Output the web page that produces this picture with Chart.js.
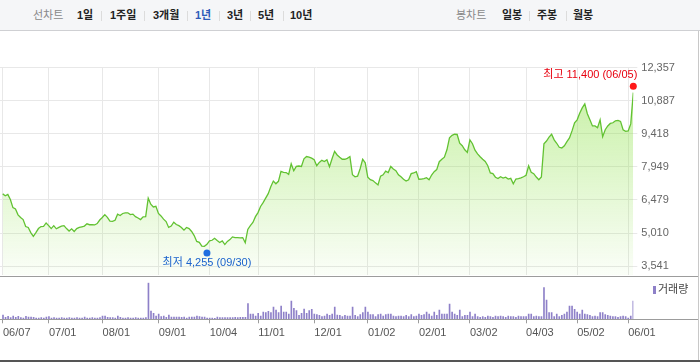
<!DOCTYPE html>
<html lang="ko">
<head>
<meta charset="utf-8">
<script src="https://cdn.jsdelivr.net/npm/chart.js@4.4.1/dist/chart.umd.min.js"></script>
<style>
  html, body { margin: 0; padding: 0; background: #fff; }
  body { width: 700px; height: 362px; position: relative; overflow: hidden;
         font-family: "Liberation Sans", "Noto Sans CJK KR", sans-serif; }
  .topbar { position: absolute; left: 0; top: 0; width: 700px; height: 30px;
            background: #f5f6f8; border-bottom: 1px solid #cfd0d3; }
  .tab { position: absolute; top: 8px; font-size: 11px; line-height: 14px; font-weight: bold;
         color: #222; white-space: nowrap; }
  .tab.label { color: #888; font-weight: normal; }
  .tab.on { color: #2e5cb8; }
  .sep { position: absolute; top: 11px; width: 1px; height: 10px; background: #dcdcdc; }
  #priceBox { position: absolute; left: 0; top: 30px; width: 700px; height: 256px; }
  #volBox { position: absolute; left: 0; top: 276px; width: 700px; height: 86px; }
  .line { position: absolute; }
  .legend { position: absolute; left: 653px; top: 282px; font-size: 11px; line-height: 14px; color: #444; }
  .legend i { display: inline-block; width: 3px; height: 8px; background: #8e80c8;
              margin-right: 2px; vertical-align: -1px; }
</style>
</head>
<body>
<div class="topbar">
  <span class="tab label" style="left:33px">선차트</span>
  <span class="tab" style="left:77px">1일</span><span class="sep" style="left:101px"></span>
  <span class="tab" style="left:110px">1주일</span><span class="sep" style="left:144px"></span>
  <span class="tab" style="left:153px">3개월</span><span class="sep" style="left:187px"></span>
  <span class="tab on" style="left:195px">1년</span><span class="sep" style="left:219px"></span>
  <span class="tab" style="left:227px">3년</span><span class="sep" style="left:250px"></span>
  <span class="tab" style="left:258px">5년</span><span class="sep" style="left:283px"></span>
  <span class="tab" style="left:290px">10년</span>

  <span class="tab label" style="left:456px">봉차트</span>
  <span class="tab" style="left:502px">일봉</span><span class="sep" style="left:529px"></span>
  <span class="tab" style="left:537px">주봉</span><span class="sep" style="left:566px"></span>
  <span class="tab" style="left:573px">월봉</span>
</div>

<div id="priceBox"><canvas id="priceChart"></canvas></div>
<div id="volBox"><canvas id="volChart"></canvas></div>

<div class="line" style="left:0;top:276px;width:698px;height:1px;background:#9c9c9c"></div>
<div class="line" style="left:0;top:319px;width:698px;height:1px;background:#9c9c9c"></div>
<div class="line" style="left:698px;top:31px;width:1px;height:329px;background:#c8c8c8"></div>
<div class="line" style="left:0;top:360px;width:700px;height:2px;background:#555"></div>
<div class="legend"><i></i>거래량</div>

<script>
// 1년 일별 종가 (2022-06-07 ~ 2023-06-05), 거래량, 축 눈금
const tickIdx = [0, 18, 39, 61, 81, 100, 122, 143, 163, 183, 205, 225, 245];
const tickLabels = ['06/07', '07/01', '08/01', '09/01', '10/04', '11/01', '12/01',
  '01/02', '02/01', '03/02', '04/03', '05/02', '06/01'];
const yTicks = [3541, 5010, 6479, 7949, 9418, 10887, 12357];

const prices = [
  6750, 6670, 6730, 6500, 6140, 6080, 5820, 5700, 5610, 5300,
  5260, 5030, 4860, 5030, 5210, 5300, 5310, 5460, 5340, 5210,
  5340, 5200, 5260, 5320, 5340, 5210, 5100, 5200, 5080, 5210,
  5260, 5290, 5320, 5420, 5380, 5380, 5370, 5430, 5590, 5700,
  5830, 5710, 5540, 5530, 5580, 5850, 5790, 5880, 5910, 5910,
  5830, 5850, 5740, 5680, 5610, 5730, 5740, 6560, 6290, 6170,
  6200, 5880, 5770, 5630, 5520, 5260, 5320, 5490, 5390, 5340,
  5260, 5140, 5260, 5210, 5080, 4900, 4640, 4600, 4430, 4420,
  4510, 4660, 4690, 4780, 4680, 4590, 4660, 4500, 4640, 4720,
  4840, 4810, 4810, 4800, 4810, 4580, 5170, 5340, 5480, 5740,
  5920, 6190, 6360, 6560, 6760, 7070, 7320, 7200, 7310, 7750,
  7710, 7700, 7620, 8090, 7780, 7970, 7990, 7970, 8310, 8410,
  8380, 8340, 8270, 8000, 8150, 8240, 8190, 8270, 7960, 8310,
  8640, 8480, 8380, 8290, 8290, 8330, 8410, 7600, 7510, 7540,
  7870, 8290, 8130, 7490, 7380, 7340, 7240, 7150, 7540, 7600,
  7760, 7700, 7970, 7860, 7780, 7600, 7510, 7400, 7320, 7380,
  7650, 7680, 7740, 7400, 7410, 7430, 7470, 7380, 7590, 7740,
  7830, 8180, 8290, 8380, 8710, 9240, 9350, 9400, 9390, 9000,
  8890, 8710, 8590, 9150, 8980, 8690, 8530, 8400, 8290, 8190,
  8000, 7680, 7650, 7490, 7430, 7510, 7450, 7490, 7410, 7440,
  7200, 7410, 7430, 7460, 7510, 7580, 8000, 7710, 7650, 7500,
  7380, 7500, 8980, 9100, 9270, 9400, 9150, 9000, 8820, 8790,
  8890, 9070, 9240, 9550, 9910, 10040, 10330, 10570, 10750, 10310,
  10040, 9770, 9770, 9690, 10040, 9290, 9600, 9770, 9880, 9910,
  10000, 10020, 9970, 9600, 9530, 9550, 9860, 11250
];

const volumes = [
  130, 60, 90, 50, 100, 60, 90, 50, 40, 90,
  70, 70, 60, 40, 40, 50, 40, 70, 80, 40,
  50, 40, 40, 50, 40, 40, 50, 40, 40, 50,
  40, 40, 70, 40, 40, 50, 40, 40, 50, 100,
  100, 60, 50, 50, 40, 100, 60, 40, 40, 50,
  40, 40, 50, 40, 40, 40, 50, 1100, 250, 180,
  100, 160, 80, 100, 60, 130, 70, 70, 70, 70,
  60, 70, 40, 70, 70, 70, 100, 80, 70, 70,
  40, 40, 40, 30, 70, 50, 50, 50, 50, 50,
  50, 60, 50, 60, 60, 60, 470, 160, 160, 100,
  180, 100, 220, 200, 240, 200, 370, 280, 200, 400,
  220, 220, 160, 550, 330, 260, 120, 180, 310, 180,
  260, 300, 160, 140, 120, 80, 100, 160, 120, 160,
  370, 130, 120, 80, 120, 100, 100, 370, 120, 80,
  140, 200, 370, 220, 140, 140, 80, 140, 160, 100,
  140, 160, 160, 100, 80, 100, 100, 80, 120, 80,
  140, 80, 100, 160, 120, 140, 220, 160, 100, 220,
  120, 280, 160, 160, 160, 460, 220, 160, 120, 280,
  80, 120, 120, 220, 80, 160, 80, 60, 80, 60,
  100, 80, 60, 100, 80, 100, 80, 60, 100, 80,
  80, 60, 100, 80, 80, 80, 160, 160, 80, 100,
  80, 80, 950, 580, 200, 200, 80, 160, 80, 120,
  160, 220, 400, 400, 300, 220, 160, 280, 160, 140,
  120, 80, 100, 80, 200, 200, 140, 120, 100, 80,
  80, 60, 80, 100, 80, 40, 100, 550
];

const highIdx = 247, highValue = 11400, highDate = '06/05';
const lowIdx = 80, lowValue = 4255, lowDate = '09/30';

const xMin = -1.06, xMax = 247;
const yMin = 3129, yMax = 12357;
const FONT = '"Liberation Sans", "Noto Sans CJK KR", sans-serif';

Chart.defaults.font.family = FONT;
Chart.defaults.font.size = 11;

const fmt = v => Number(v).toLocaleString('en-US');

// 최고/최저 표시
const extremeMarks = {
  id: 'extremeMarks',
  afterDatasetsDraw(chart) {
    const { ctx, scales: { x, y } } = chart;
    ctx.save();
    ctx.font = '11px ' + FONT;
    ctx.textBaseline = 'middle';

    let px = x.getPixelForValue(highIdx);
    let py = y.getPixelForValue(highValue) - 3;
    ctx.fillStyle = '#ff1a1a';
    ctx.beginPath(); ctx.arc(px, py, 3.5, 0, Math.PI * 2); ctx.fill();
    ctx.fillStyle = '#e8000f';
    ctx.textAlign = 'right';
    ctx.fillText('최고 ' + fmt(highValue) + ' (' + highDate + ')', px + 4, py - 11);

    px = x.getPixelForValue(lowIdx);
    py = y.getPixelForValue(lowValue) + 3;
    ctx.fillStyle = '#1f6fe0';
    ctx.beginPath(); ctx.arc(px, py, 3.5, 0, Math.PI * 2); ctx.fill();
    ctx.fillStyle = '#1b63cc';
    ctx.textAlign = 'center';
    ctx.fillText('최저 ' + fmt(lowValue) + ' (' + lowDate + ')', px, py + 10);
    ctx.restore();
  }
};

new Chart(document.getElementById('priceChart'), {
  type: 'line',
  data: {
    datasets: [{
      data: prices.map((v, i) => ({ x: i, y: v })),
      borderColor: '#62c232',
      borderWidth: 1.3,
      pointRadius: 0,
      tension: 0,
      fill: 'start',
      backgroundColor: ctx => {
        const area = ctx.chart.chartArea;
        if (!area) return 'rgba(0,0,0,0)';
        const g = ctx.chart.ctx.createLinearGradient(0, area.top, 0, area.bottom);
        g.addColorStop(0, 'rgba(140, 225, 70, 0.52)');
        g.addColorStop(1, 'rgba(140, 225, 70, 0.04)');
        return g;
      }
    }]
  },
  options: {
    responsive: true,
    maintainAspectRatio: false,
    animation: false,
    layout: { padding: { top: 37.7, bottom: 10, left: 0, right: 0 } },
    plugins: { legend: { display: false }, tooltip: { enabled: false } },
    scales: {
      x: {
        type: 'linear', min: xMin, max: xMax,
        afterBuildTicks: s => { s.ticks = tickIdx.map(v => ({ value: v })); },
        ticks: { display: false },
        grid: { color: '#e8e8e8', drawTicks: false },
        border: { display: false },
        afterFit: s => { s.height = 0; }
      },
      y: {
        position: 'right', min: yMin, max: yMax,
        afterBuildTicks: s => { s.ticks = yTicks.map(v => ({ value: v })); },
        ticks: { color: '#666', padding: 4, crossAlign: 'near', callback: v => fmt(v) },
        grid: { color: '#e8e8e8', tickLength: 4 },
        border: { display: false },
        afterFit: s => { s.width = 66.7; }
      }
    }
  },
  plugins: [extremeMarks]
});

new Chart(document.getElementById('volChart'), {
  type: 'bar',
  data: {
    datasets: [{
      data: volumes.map((v, i) => ({ x: i, y: v })),
      backgroundColor: '#8e80c8',
      borderWidth: 0,
      barThickness: 1
    }]
  },
  options: {
    responsive: true,
    maintainAspectRatio: false,
    animation: false,
    layout: { padding: { top: 6.7, right: 66.7, left: 0, bottom: 0 } },
    plugins: { legend: { display: false }, tooltip: { enabled: false } },
    scales: {
      x: {
        type: 'linear', min: xMin, max: xMax, offset: false,
        afterBuildTicks: s => { s.ticks = tickIdx.map(v => ({ value: v })); },
        ticks: {
          color: '#555', padding: 3, align: 'start', autoSkip: false, maxRotation: 0,
          callback: (v, i) => tickLabels[i]
        },
        grid: { offset: false, drawOnChartArea: false, drawTicks: true, tickLength: 4, color: '#9c9c9c' },
        border: { display: false },
        afterFit: s => { s.height = 42.7; }
      },
      y: { display: false, min: 0, max: Math.max(...volumes) }
    }
  }
});
</script>
</body>
</html>
